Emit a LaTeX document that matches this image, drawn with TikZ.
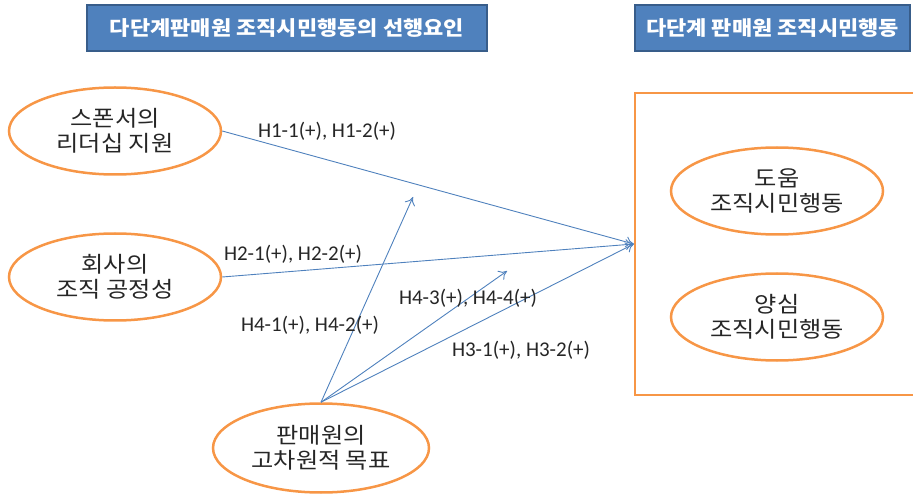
\documentclass[tikz,border=0pt]{standalone}
\usepackage{fontspec}
\setmainfont{Carlito}
\newfontfamily\kr[FakeStretch=1.1]{Noto Sans CJK KR}
\usetikzlibrary{shapes.geometric,arrows.meta}
\definecolor{hdrfill}{HTML}{4F81BD}
\definecolor{hdrdraw}{HTML}{385D8A}
\definecolor{ocol}{HTML}{F79646}
\definecolor{acol}{HTML}{4F81BD}
\definecolor{tcol}{HTML}{262626}
\tikzset{
  header/.style={draw=hdrdraw, line width=1.5pt, fill=hdrfill, text=white, font=\kr\bfseries\fontsize{20}{24}\selectfont, inner sep=0pt, minimum height=46pt},
  oval/.style={ellipse, draw=ocol, line width=2.5pt, minimum width=212pt, minimum height=87pt, inner sep=0pt, align=center, text=tcol, font=\kr\fontsize{22}{25}\selectfont},
  outerbox/.style={draw=ocol, line width=2.5pt, inner sep=0pt},
  link/.style={draw=acol, line width=0.9pt, -{To[length=8pt,width=11pt]}},
  hlabel/.style={text=tcol, font=\fontsize{21}{24}\selectfont, inner sep=0pt}
}
\begin{document}
\begin{tikzpicture}[x=1pt,y=-1pt]
\useasboundingbox (0,0) rectangle (913,494);
\node[header, minimum width=400pt] (h1) at (287,28) {다단계판매원 조직시민행동의 선행요인};
\node[header, minimum width=275pt] (h2) at (772.5,28) {다단계 판매원 조직시민행동};
\node[outerbox, minimum width=282pt, minimum height=302pt] (box) at (776,244) {};
\coordinate (t) at (box.west);
\node[oval] (a) at (115,131) {스폰서의\\리더십 지원};
\node[oval] (b) at (115,277) {회사의\\조직 공정성};
\node[oval, minimum width=216pt, minimum height=89pt] (c) at (321,448) {판매원의\\고차원적 목표};
\node[oval] (d) at (777,191) {도움\\조직시민행동};
\node[oval] (e) at (777,317) {양심\\조직시민행동};
\coordinate (m1) at (413,197);
\coordinate (m2) at (507,271);
\draw[link] (a.east) -- (t);
\draw[link] (b.east) -- (t);
\draw[link] (c.north) -- (t);
\draw[link] (c.north) -- (m1);
\draw[link] (c.north) -- (m2);
\node[hlabel] (l1) at (327,131) {H1-1(+), H1-2(+)};
\node[hlabel] (l2) at (293,254) {H2-1(+), H2-2(+)};
\node[hlabel] (l3) at (468,298) {H4-3(+), H4-4(+)};
\node[hlabel] (l4) at (310,325) {H4-1(+), H4-2(+)};
\node[hlabel] (l5) at (521,350) {H3-1(+), H3-2(+)};
\end{tikzpicture}
\end{document}
